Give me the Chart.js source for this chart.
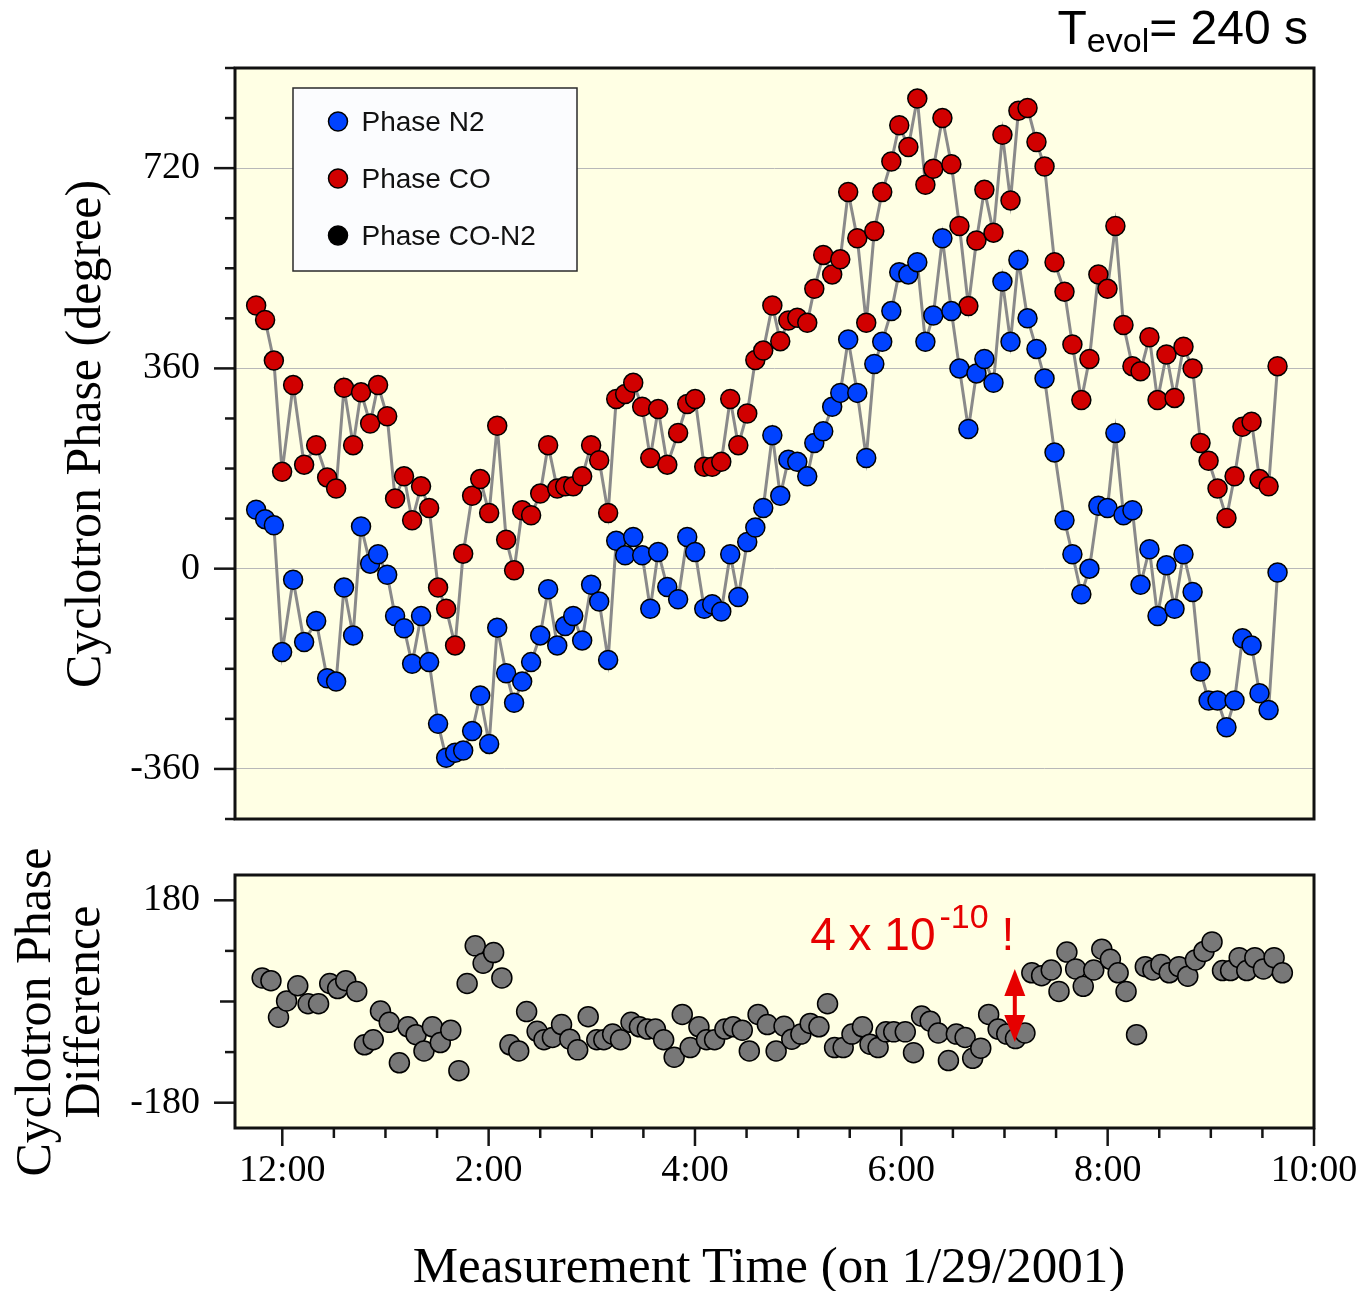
<!DOCTYPE html>
<html>
<head>
<meta charset="utf-8">
<script src="https://cdn.jsdelivr.net/npm/chart.js@4.4.1/dist/chart.umd.min.js"></script>
<style>
html,body{margin:0;padding:0;background:#fff;}
#wrap{position:relative;width:1372px;height:1291px;overflow:hidden;background:#fff;}
.box{position:absolute;left:0;}
.t{position:absolute;white-space:nowrap;color:#000;text-align:center;}
</style>
</head>
<body>
<div id="wrap">
  <div class="box" style="top:0;width:1372px;height:830px;"><canvas id="c1" width="1372" height="830"></canvas></div>
  <div class="box" style="top:830px;width:1372px;height:461px;"><canvas id="c2" width="1372" height="461"></canvas></div>

  <div class="t" style="right:64px;top:4px;font-family:'Liberation Sans',Arial,sans-serif;font-size:48px;line-height:48px;">T<span style="font-size:34px;position:relative;top:8px;">evol</span>= 240 s</div>

  <div class="t" style="left:-217px;top:409px;width:600px;height:50px;line-height:50px;font-family:'Liberation Serif','Times New Roman',serif;font-size:50px;transform:rotate(-90deg);">Cyclotron Phase (degree)</div>

  <div class="t" style="left:-142.5px;top:963px;width:400px;height:98px;line-height:49px;font-family:'Liberation Serif','Times New Roman',serif;font-size:50px;transform:rotate(-90deg);">Cyclotron Phase<br>Difference</div>

  <div class="t" style="left:319px;top:1240px;width:900px;height:51px;line-height:51px;font-family:'Liberation Serif','Times New Roman',serif;font-size:51px;">Measurement Time (on 1/29/2001)</div>
</div>

<script>
// ---------------- data (minutes after 12:00 noon) ----------------
const timesMin = [
  -15.2,-10.0,-4.9,-0.1,6.3,12.7,19.7,26.1,31.3,35.9,
  41.2,45.8,51.1,55.7,61.0,65.6,70.8,75.5,80.7,85.4,
  90.6,95.3,100.5,105.2,110.4,115.1,120.3,125.0,130.2,134.8,
  139.5,144.7,150.0,154.6,159.9,164.5,169.2,174.4,179.6,184.3,
  189.5,194.2,199.4,204.1,209.3,214.0,218.6,223.9,230.2,235.5,
  240.1,245.4,250.0,255.3,260.5,265.2,270.4,275.1,279.7,285.0,
  289.6,294.3,299.5,305.3,309.4,314.6,319.8,324.5,329.1,334.4,
  339.6,344.3,348.9,354.2,358.8,364.1,369.3,374.0,378.6,383.9,
  389.1,393.8,399.0,403.7,408.3,413.6,418.8,423.5,428.1,433.4,
  438.6,443.3,449.1,454.9,459.5,464.7,469.4,474.6,479.9,484.5,
  489.2,494.4,499.1,504.3,509.0,514.2,518.9,524.1,529.4,534.0,
  538.7,543.9,549.1,553.8,558.4,563.7,568.3,573.6,578.8
];
const phaseN2 = [
  106,89,78,-150,-20,-132,-94,-197,-203,-34,
  -120,76,9,26,-11,-85,-107,-171,-85,-168,
  -279,-340,-331,-327,-292,-228,-315,-106,-188,-241,
  -203,-168,-120,-37,-138,-103,-85,-129,-29,-59,
  -164,50,24,57,24,-72,30,-33,-55,57,
  30,-72,-64,-77,26,-51,48,74,109,240,
  131,196,192,166,226,247,291,316,412,316,
  199,368,408,463,533,529,551,408,455,594,
  463,360,251,351,377,334,516,408,555,450,
  395,342,209,87,26,-46,0,113,109,244,
  96,105,-29,35,-85,6,-72,26,-42,-185,
  -237,-237,-285,-237,-125,-138,-224,-254,-7
];
const phaseCO = [
  473,447,374,174,330,187,222,164,144,325,
  222,317,261,330,274,126,166,87,148,109,
  -34,-72,-138,27,131,161,100,257,52,-3,
  105,96,135,222,144,148,148,166,222,195,
  100,305,314,334,291,199,287,187,244,296,
  305,183,183,192,305,222,279,375,392,473,
  409,446,451,442,503,564,529,556,677,594,
  442,607,677,732,797,758,845,690,719,810,
  727,616,472,590,681,604,780,662,823,828,
  767,723,551,498,403,303,377,529,503,616,
  438,364,355,416,303,385,307,399,360,226,
  194,144,91,166,255,264,161,148,364
];
const diffTimesMin = [
  -11.7,-6.6,-2.2,2.5,9.0,15.0,21.1,27.6,32.2,36.9,
  43.3,47.8,52.9,57.1,62.2,68.1,73.1,77.8,82.4,87.3,
  91.9,98.0,102.7,107.5,112.2,116.8,122.9,127.7,132.4,137.5,
  142.1,148.2,152.2,157.1,162.4,167.2,171.8,177.9,182.9,187.0,
  192.1,196.7,202.8,207.7,212.3,217.0,221.8,227.9,232.6,237.2,
  242.3,246.7,251.4,257.4,262.2,267.5,271.6,276.7,282.1,287.2,
  291.8,296.3,301.6,307.0,312.1,317.1,321.2,326.2,331.3,337.4,
  341.8,346.5,351.1,355.6,362.3,367.1,371.8,376.8,381.5,387.4,
  392.0,397.1,401.5,406.2,410.8,416.3,421.3,426.4,431.9,435.9,
  441.6,447.2,451.7,456.3,461.4,465.8,471.9,476.6,481.6,486.1,
  490.7,496.8,501.9,506.3,511.0,515.8,521.5,526.6,531.0,536.0,
  540.7,546.8,551.5,556.5,560.9,565.6,570.6,576.8,581.6
];
const phaseDiff = [
  42,37,-28,1,28,-4,-4,32,23,37,
  18,-77,-68,-17,-37,-109,-45,-59,-88,-45,
  -73,-51,-123,32,99,68,87,42,-77,-88,
  -18,-53,-68,-64,-41,-67,-86,-27,-68,-68,
  -58,-68,-37,-45,-49,-49,-68,-99,-23,-82,
  -45,-68,-68,-49,-45,-51,-88,-23,-41,-88,
  -44,-67,-58,-39,-45,-4,-82,-82,-58,-45,
  -76,-82,-54,-54,-54,-91,-26,-35,-56,-105,
  -58,-64,-101,-83,-23,-49,-58,-66,-56,51,
  46,56,18,88,58,27,56,93,75,51,
  18,-59,62,56,66,51,62,45,74,89,
  106,55,55,78,55,78,58,78,51
];
const seriesNames = ['Phase N2', 'Phase CO', 'Phase CO-N2'];
const timeTickValues = [0, 120, 240, 360, 480, 600];
const timeTickLabels = ['12:00', '2:00', '4:00', '6:00', '8:00', '10:00'];
const topYLabels = [-360, 0, 360, 720];
const diffYLabels = [-180, 180];

// ---------------- style ----------------
const SERIF = "'Liberation Serif','Times New Roman',Times,serif";
const SANS = "'Liberation Sans',Arial,Helvetica,sans-serif";
const PLOT_BG = '#ffffe4';
const BLUE = '#0042ff', RED = '#d10000', GRAYPT = '#787878', LINE = '#8a8a8a', GRID = '#b8b8b8';
const NOTE_RED = '#e60000';
const seriesColors = [BLUE, RED, '#000000'];
const NOTE = { x: 307, y: 92, base: '4 x 10', exp: '-10', bang: '!' };
const ARROW = { x: 426, from: -72, to: 58 };

function range(a, b, s) { const r = []; for (let v = a; v <= b + 1e-9; v += s) r.push(Math.round(v * 1000) / 1000); return r; }
const pts = (xs, ys) => xs.map((x, i) => ({ x: x, y: ys[i] }));
function noPad(s) { s.paddingTop = 0; s.paddingBottom = 0; s.paddingLeft = 0; s.paddingRight = 0; }

const decor = {
  id: 'decor',
  beforeDraw(chart) {
    const { ctx, chartArea: a } = chart;
    ctx.save(); ctx.fillStyle = PLOT_BG; ctx.fillRect(a.left, a.top, a.width, a.height); ctx.restore();
  },
  afterDraw(chart, args, o) {
    const { ctx, chartArea: a } = chart;
    ctx.save();
    ctx.strokeStyle = '#151515'; ctx.lineWidth = 2.5; ctx.lineCap = 'butt';
    const ys = chart.scales.y;
    ys.ticks.forEach(t => {
      const p = ys.getPixelForValue(t.value);
      const len = o.yMajor.includes(t.value) ? 21 : (t.value === 0 ? 15 : 10);
      ctx.beginPath(); ctx.moveTo(a.left - len, p); ctx.lineTo(a.left, p); ctx.stroke();
    });
    if (o.xTicks) {
      const xs = chart.scales.x;
      xs.ticks.forEach(t => {
        const p = xs.getPixelForValue(t.value);
        const len = timeTickValues.includes(t.value) ? 18 : 10;
        ctx.beginPath(); ctx.moveTo(p, a.bottom); ctx.lineTo(p, a.bottom + len); ctx.stroke();
      });
    }
    ctx.lineWidth = 3; ctx.strokeStyle = '#111';
    ctx.strokeRect(a.left, a.top, a.width, a.height);
    ctx.restore();
  }
};

const legendBox = {
  id: 'legendBox',
  afterDraw(chart) {
    const { ctx, chartArea: a } = chart;
    const L = a.left + 58, T = a.top + 20, W = 284, H = 183;
    ctx.save();
    ctx.fillStyle = '#fbfcfe'; ctx.fillRect(L, T, W, H);
    ctx.lineWidth = 1.5; ctx.strokeStyle = '#2a2a2a'; ctx.strokeRect(L, T, W, H);
    seriesNames.forEach((name, i) => {
      const cy = T + 33.5 + i * 57, cx = L + 45;
      ctx.beginPath(); ctx.arc(cx, cy, 9.5, 0, Math.PI * 2);
      ctx.fillStyle = seriesColors[i]; ctx.fill();
      ctx.lineWidth = 1.5; ctx.strokeStyle = '#000'; ctx.stroke();
      ctx.fillStyle = '#111'; ctx.font = '28px ' + SANS; ctx.textBaseline = 'middle'; ctx.textAlign = 'left';
      ctx.fillText(name, L + 68.5, cy + 1.5);
    });
    ctx.restore();
  }
};

const note = {
  id: 'note',
  afterDatasetsDraw(chart) {
    const { ctx } = chart; const xs = chart.scales.x, ys = chart.scales.y;
    ctx.save();
    ctx.fillStyle = NOTE_RED; ctx.strokeStyle = NOTE_RED;
    ctx.textBaseline = 'alphabetic'; ctx.textAlign = 'left';
    let x = xs.getPixelForValue(NOTE.x); const y = ys.getPixelForValue(NOTE.y);
    ctx.font = '46px ' + SANS; ctx.fillText(NOTE.base, x, y); x += ctx.measureText(NOTE.base).width + 4;
    ctx.font = '34px ' + SANS; ctx.fillText(NOTE.exp, x, y - 22); x += ctx.measureText(NOTE.exp).width;
    ctx.font = '46px ' + SANS; ctx.fillText(' ' + NOTE.bang, x, y);
    const ax = xs.getPixelForValue(ARROW.x), yTop = ys.getPixelForValue(ARROW.to), yBot = ys.getPixelForValue(ARROW.from);
    const hl = 27, hw = 10.5;
    ctx.lineWidth = 4;
    ctx.beginPath(); ctx.moveTo(ax, yTop + hl - 4); ctx.lineTo(ax, yBot - hl + 4); ctx.stroke();
    ctx.beginPath(); ctx.moveTo(ax, yTop); ctx.lineTo(ax + hw, yTop + hl); ctx.lineTo(ax - hw, yTop + hl); ctx.closePath(); ctx.fill();
    ctx.beginPath(); ctx.moveTo(ax, yBot); ctx.lineTo(ax + hw, yBot - hl); ctx.lineTo(ax - hw, yBot - hl); ctx.closePath(); ctx.fill();
    ctx.restore();
  }
};

const tickFont = { family: SERIF, size: 38 };

// ---------------- top chart ----------------
const n2Pts = pts(timesMin, phaseN2), coPts = pts(timesMin, phaseCO);
new Chart(document.getElementById('c1'), {
  type: 'scatter',
  data: {
    datasets: [
      { label: 'N2 line', data: n2Pts, showLine: true, borderColor: LINE, borderWidth: 3, pointRadius: 0, order: 3 },
      { label: 'CO line', data: coPts, showLine: true, borderColor: LINE, borderWidth: 3, pointRadius: 0, order: 3 },
      { label: seriesNames[0], data: n2Pts, showLine: false, pointRadius: 9.5, pointBackgroundColor: BLUE, pointBorderColor: '#000', pointBorderWidth: 1.5, order: 1 },
      { label: seriesNames[1], data: coPts, showLine: false, pointRadius: 9.5, pointBackgroundColor: RED, pointBorderColor: '#000', pointBorderWidth: 1.5, order: 1 }
    ]
  },
  options: {
    responsive: false, animation: false, events: [],
    layout: { padding: { left: 0, top: 68, right: 58, bottom: 11 } },
    plugins: { legend: { display: false }, tooltip: { enabled: false }, decor: { yMajor: topYLabels, xTicks: false } },
    scales: {
      x: { type: 'linear', min: -27.5, max: 600, display: false },
      y: {
        type: 'linear', min: -450, max: 900,
        afterBuildTicks(s) { s.ticks = range(-450, 900, 90).map(v => ({ value: v })); },
        afterFit(s) { s.width = 235; noPad(s); },
        ticks: { autoSkip: false, padding: 35, color: '#000', font: tickFont, callback: v => topYLabels.includes(v) ? String(v) : '' },
        grid: { drawTicks: false, lineWidth: 1, color: c => (c.tick && topYLabels.includes(c.tick.value)) ? GRID : 'rgba(0,0,0,0)' },
        border: { display: false }
      }
    }
  },
  plugins: [decor, legendBox]
});

// ---------------- bottom chart ----------------
new Chart(document.getElementById('c2'), {
  type: 'scatter',
  data: {
    datasets: [
      { label: seriesNames[2], data: pts(diffTimesMin, phaseDiff), showLine: false, pointRadius: 10, pointBackgroundColor: GRAYPT, pointBorderColor: '#000', pointBorderWidth: 1.5 }
    ]
  },
  options: {
    responsive: false, animation: false, events: [],
    layout: { padding: { left: 0, top: 45, right: 58, bottom: 0 } },
    plugins: { legend: { display: false }, tooltip: { enabled: false }, decor: { yMajor: diffYLabels, xTicks: true } },
    scales: {
      x: {
        type: 'linear', min: -27.5, max: 600,
        afterBuildTicks(s) { s.ticks = range(0, 600, 30).map(v => ({ value: v })); },
        afterFit(s) { s.height = 163; noPad(s); },
        ticks: { autoSkip: false, maxRotation: 0, minRotation: 0, padding: 20, color: '#000', font: tickFont,
          callback: v => { const i = timeTickValues.indexOf(v); return i >= 0 ? timeTickLabels[i] : ''; } },
        grid: { display: false, drawTicks: false },
        border: { display: false }
      },
      y: {
        type: 'linear', min: -225, max: 225,
        afterBuildTicks(s) { s.ticks = range(-180, 180, 90).map(v => ({ value: v })); },
        afterFit(s) { s.width = 235; noPad(s); },
        ticks: { autoSkip: false, padding: 35, color: '#000', font: tickFont, callback: v => diffYLabels.includes(v) ? String(v) : '' },
        grid: { display: false, drawTicks: false },
        border: { display: false }
      }
    }
  },
  plugins: [decor, note]
});
</script>
</body>
</html>
